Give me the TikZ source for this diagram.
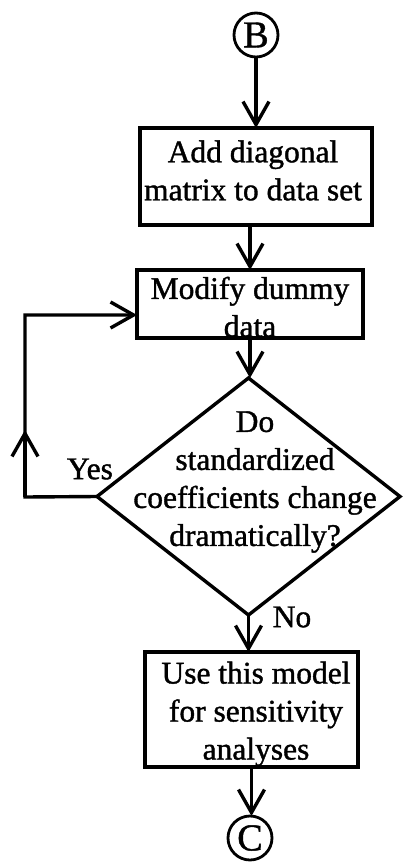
\documentclass[tikz,border=0pt]{standalone}
\usepackage{fontspec}
\setmainfont[FakeBold=1.2]{Liberation Serif}
\usetikzlibrary{arrows.meta,shapes.geometric}

\begin{document}
\begin{tikzpicture}[x=1pt,y=1pt,
    line width=3.4pt,
    txt/.style={font=\fontsize{31.5}{38}\selectfont, align=center, inner sep=0pt},
    stepbox/.style={draw, rectangle, inner sep=0pt, outer sep=0pt},
    decision/.style={draw, diamond, inner sep=0pt, outer sep=0pt, minimum width=303pt, minimum height=237pt},
    connector/.style={draw, circle, line width=2.8pt, inner sep=0pt, outer sep=0pt, minimum size=#1,
                      font=\fontsize{38}{38}\selectfont},
    flow/.style={-{Straight Barb[length=23pt,width=26pt]}},
  ]
  \useasboundingbox (0,0) rectangle (402,-864);

  % off-page connectors
  \node[connector=44pt] (B) at (256,-35) {B};
  \node[connector=44pt] (C) at (250,-838) {C};

  % process boxes
  \node[stepbox, minimum width=232pt, minimum height=97pt] (b1) at (256,-176.5) {};
  \node[txt] (t1) at (253,-170.5) {Add diagonal\\matrix to data set};

  \node[stepbox, minimum width=226pt, minimum height=68pt] (b2) at (250,-304) {};
  \node[txt] (t2) at (250,-307) {Modify dummy\\data};

  \node[decision] (d) at (248.5,-496.5) {};
  \node[txt] (t3) at (255,-482) {Do\\standardized\\coefficients change\\dramatically?};

  \node[stepbox, minimum width=213pt, minimum height=115pt] (b3) at (251.5,-709.5) {};
  \node[txt] (t4) at (256,-714) {Use this model\\for sensitivity\\analyses};

  % branch labels
  \node[txt] (yes) at (90,-469) {Yes};
  \node[txt] (no) at (292,-617) {No};

  % main flow
  \draw[flow] (B.south) -- (B.south |- b1.north);
  \draw[flow] (b2.north |- b1.south) -- (b2.north);
  \draw[flow] (b2.south) -- (b2.south |- d.north);
  \draw[flow] (d.south) -- (d.south |- b3.north);
  \draw[flow] (b3.south) -- (b3.south |- C.north);

  % "Yes" loop back to the modify step
  \coordinate (lp1) at (25,-497);
  \coordinate (lp2) at (25,-315);
  \coordinate (uptip) at (25,-430);
  \draw[flow] (d.west) -- (lp1) -- (lp2) -- (lp2 -| b2.west);
  \draw[flow] (lp1) -- (uptip);
\end{tikzpicture}
\end{document}
